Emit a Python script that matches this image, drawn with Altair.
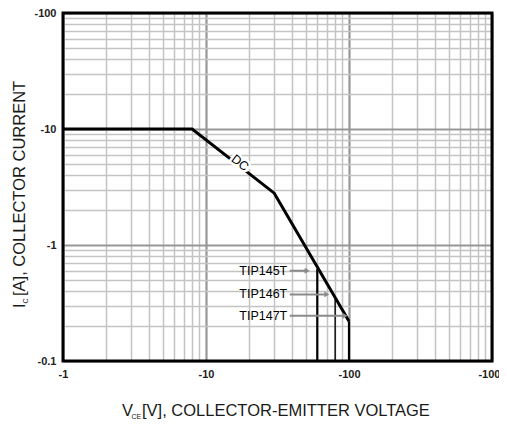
import altair as alt
import pandas as pd

# ---- data ----
x_ticks = [1, 2, 3, 4, 5, 6, 7, 8, 9, 10, 20, 30, 40, 50, 60, 70, 80, 90,
           100, 200, 300, 400, 500, 600, 700, 800, 900, 1000]
y_ticks = [0.1, 0.2, 0.3, 0.4, 0.5, 0.6, 0.7, 0.8, 0.9, 1, 2, 3, 4, 5, 6, 7, 8, 9,
           10, 20, 30, 40, 50, 60, 70, 80, 90, 100]

dc_v = [1, 8, 30, 100]
dc_i = [10, 10, 2.8, 0.22]

limit_v = [60, 80, 100]
limit_top = [0.62, 0.34, 0.22]
limit_bottom = [0.1, 0.1, 0.1]
limit_width = [2.2, 1.4, 2.2]

devices = ["TIP145T", "TIP146T", "TIP147T"]
label_v = [37, 37, 37]
label_i = [0.60, 0.375, 0.245]
arrow_start = [38.5, 38.5, 38.5]
arrow_end = [51, 70, 94]

dc_text = ["DC"]
dc_text_v = [17.3]
dc_text_i = [5.1]

frame_v = [1]
frame_v2 = [1000]
frame_i = [0.1]
frame_i2 = [100]

FONT = "Liberation Sans"

xscale = alt.Scale(type="log", domain=[1, 1000], nice=False)
yscale = alt.Scale(type="log", domain=[0.1, 100], nice=False)

is_dec = "abs(log(datum.value)/LN10 - round(log(datum.value)/LN10)) < 0.001"

xaxis = alt.Axis(
    values=x_ticks, title=None, ticks=False, domain=False, grid=True,
    labelExpr=f"({is_dec}) ? '-' + datum.value : ''",
    gridColor={"condition": {"test": is_dec, "value": "#979797"}, "value": "#c4c4c4"},
    gridWidth={"condition": {"test": is_dec, "value": 2.2}, "value": 1.5},
    labelFlush=False, labelOverlap=False, labelFont=FONT, labelFontSize=11,
    labelFontWeight="bold", labelColor="#222222", labelPadding=7,
)
yaxis = alt.Axis(
    values=y_ticks, title=None, ticks=False, domain=False, grid=True,
    labelExpr=f"({is_dec}) ? '-' + datum.value : ''",
    gridColor={"condition": {"test": is_dec, "value": "#979797"}, "value": "#c4c4c4"},
    gridWidth={"condition": {"test": is_dec, "value": 2.2}, "value": 1.5},
    labelFlush=False, labelOverlap=False, labelFont=FONT, labelFontSize=11,
    labelFontWeight="bold", labelColor="#222222", labelPadding=7,
)

dc_df = pd.DataFrame({"v": dc_v, "i": dc_i})
lim_df = pd.DataFrame({"v": limit_v, "i": limit_bottom, "i2": limit_top, "w": limit_width})
ann_df = pd.DataFrame({"name": devices, "v": label_v, "i": label_i,
                       "a0": arrow_start, "a1": arrow_end})
dct_df = pd.DataFrame({"t": dc_text, "v": dc_text_v, "i": dc_text_i})
frame_df = pd.DataFrame({"v": frame_v, "v2": frame_v2, "i": frame_i, "i2": frame_i2})


def X(f):
    return alt.X(f, scale=xscale, axis=xaxis)


def Y(f):
    return alt.Y(f, scale=yscale, axis=yaxis)


base_line = alt.Chart(dc_df).mark_line(color="black", strokeWidth=3).encode(
    x=X("v:Q"), y=Y("i:Q"),
)

limits = alt.Chart(lim_df).mark_rule(color="black").encode(
    x=X("v:Q"), y=Y("i:Q"), y2="i2:Q",
    strokeWidth=alt.StrokeWidth("w:Q", scale=None),
)

arrows = alt.Chart(ann_df).mark_rule(color="#8a8a8a", strokeWidth=2).encode(
    x=X("a0:Q"), x2="a1:Q", y=Y("i:Q"),
)
heads = alt.Chart(ann_df).mark_point(shape="triangle-right", filled=True, size=35,
                                     color="#8a8a8a", opacity=1).encode(
    x=X("a1:Q"), y=Y("i:Q"),
)
labels = alt.Chart(ann_df).mark_text(align="right", baseline="middle", font=FONT,
                                     fontSize=12.5, color="black").encode(
    x=X("v:Q"), y=Y("i:Q"), text="name:N",
)

dc_halo = alt.Chart(dct_df).mark_text(angle=38, font=FONT, fontSize=12.5, stroke="white",
                                      strokeWidth=5, color="white").encode(
    x=X("v:Q"), y=Y("i:Q"), text="t:N",
)
dc_lbl = alt.Chart(dct_df).mark_text(angle=38, font=FONT, fontSize=12.5, color="black").encode(
    x=X("v:Q"), y=Y("i:Q"), text="t:N",
)

frame = alt.Chart(frame_df).mark_rect(fillOpacity=0, stroke="black", strokeWidth=3).encode(
    x=X("v:Q"), x2="v2:Q", y=Y("i:Q"), y2="i2:Q",
)


def txt(s, x, y, size, angle=0):
    return alt.Chart(pd.DataFrame({"t": [s]})).mark_text(
        align="left", baseline="alphabetic", font=FONT, fontSize=size,
        color="#1a1a1a", angle=angle,
    ).encode(x=alt.value(x), y=alt.value(y), text="t:N")


xt1 = txt("V", 59, 403, 16.5)
xt2 = txt("CE", 68.5, 405.5, 7)
xt3 = txt("[V], COLLECTOR-EMITTER VOLTAGE", 79, 403, 16.5)
yt1 = txt("I", -38, 295, 16.5, 270)
yt2 = txt("C", -35.5, 290.5, 7, 270)
yt3 = txt("[A], COLLECTOR CURRENT", -38, 283, 16.5, 270)

chart = alt.layer(
    base_line, limits, arrows, heads, labels, dc_halo, dc_lbl, frame,
    xt1, xt2, xt3, yt1, yt2, yt3,
).properties(
    width=429, height=348,
    autosize=alt.AutoSizeParams(type="none"),
    padding={"left": 55, "top": 5, "right": 7, "bottom": 58},
).configure_view(strokeWidth=0)

chart.save("out.html", embed_options={"renderer": "svg", "actions": False})
